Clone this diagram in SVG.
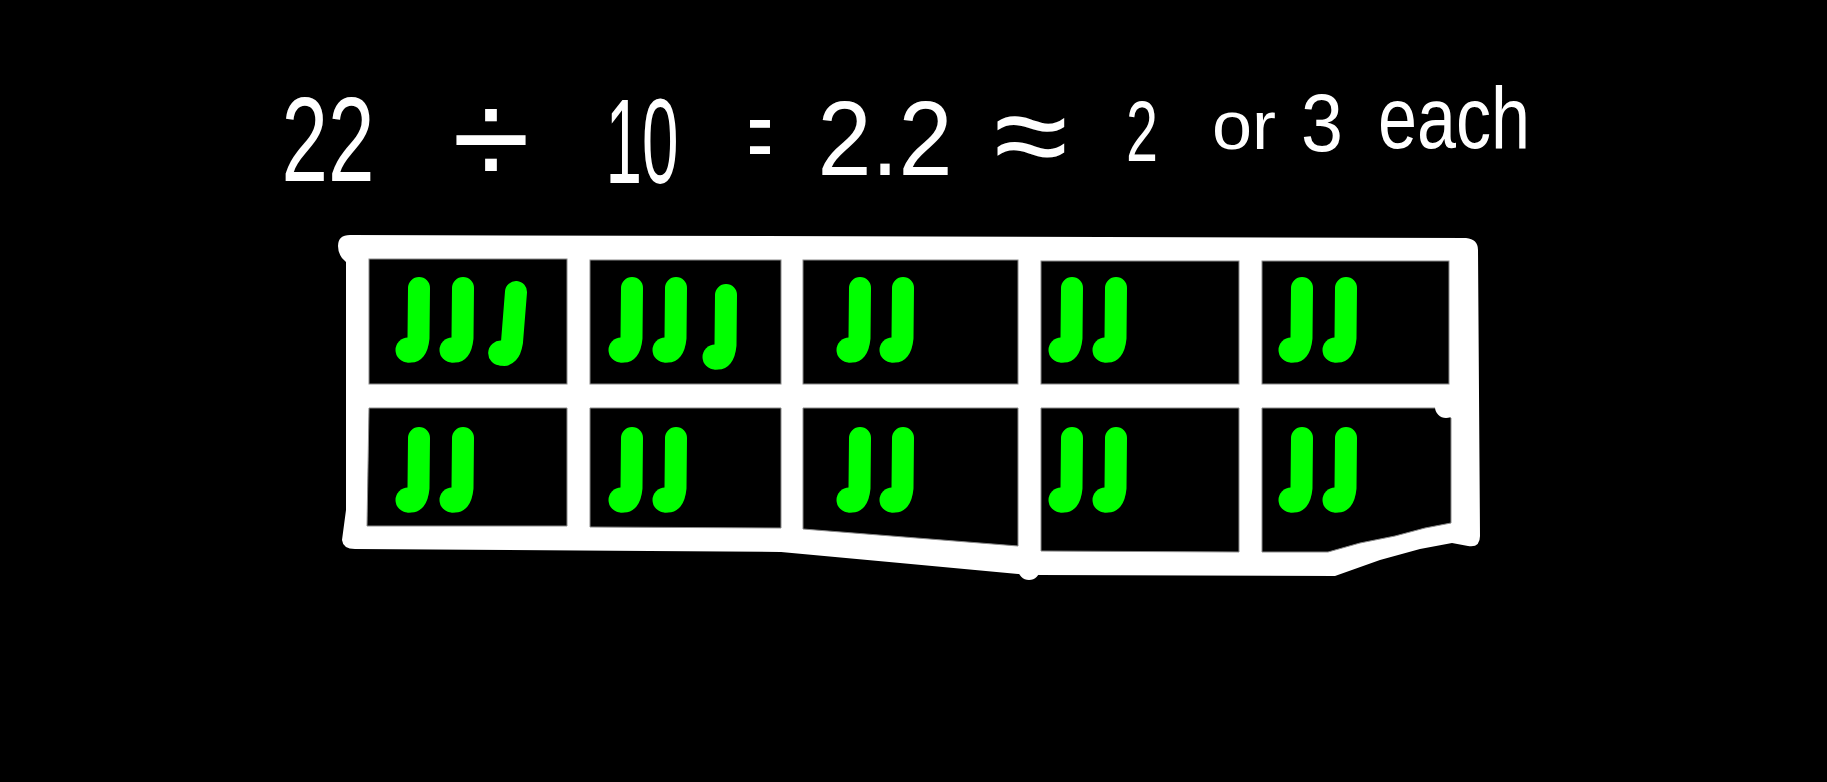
<svg xmlns="http://www.w3.org/2000/svg" xmlns:xlink="http://www.w3.org/1999/xlink" width="1827" height="782" viewBox="0 0 1827 782">
<style>
.t{font-family:"Liberation Sans",Arial,sans-serif;fill:#fff;text-anchor:middle}
.cell{fill:#000;stroke:#8a8a8a;stroke-width:1}
.ws{fill:#fff}
.mk{stroke:#00ff00;stroke-width:22;stroke-linecap:round;stroke-linejoin:round;fill:none}
</style>
<defs>
<g id="mark">
<path class="mk" d="M0,0 L-0.5,50 Q-2,66 -11,63"/>
<circle cx="-11" cy="62" r="12.5" fill="#00ff00"/>
</g>
</defs>
<rect width="1827" height="782" fill="#000"/>
<g id="title">
<text class="t" x="328" y="181" font-size="120" textLength="93" lengthAdjust="spacingAndGlyphs">22</text>
<text class="t" x="491" y="186" font-size="138" textLength="78" lengthAdjust="spacingAndGlyphs">÷</text>
<text class="t" x="642" y="183" font-size="120" textLength="73" lengthAdjust="spacingAndGlyphs">10</text>
<text class="t" x="760" y="172" font-size="105" textLength="24" lengthAdjust="spacingAndGlyphs">=</text>
<text class="t" x="885" y="175" font-size="105" textLength="135" lengthAdjust="spacingAndGlyphs">2.2</text>
<text class="t" x="1031" y="178" font-size="125" textLength="74" lengthAdjust="spacingAndGlyphs">≈</text>
<text class="t" x="1142" y="161" font-size="85" textLength="32" lengthAdjust="spacingAndGlyphs">2</text>
<text class="t" x="1244" y="149" font-size="69" textLength="64" lengthAdjust="spacingAndGlyphs">or</text>
<text class="t" x="1322" y="151" font-size="81" textLength="42" lengthAdjust="spacingAndGlyphs">3</text>
<text class="t" x="1454" y="148" font-size="88" textLength="152" lengthAdjust="spacingAndGlyphs">each</text>
</g>
<g id="frame">
<path class="ws" d="M350,235 L1466,238 Q1478,239 1478,250 L1480,536 Q1480,548 1468,546 L1452,543 L1420,549 L1380,560 L1335,576 L1040,575 L1018,574 L900,563 L781,552 L650,551 L355,549 Q343,549 342,540 L346,510 L346,262 Q338,256 338,246 Q338,235 350,235 Z"/>
<circle class="ws" cx="1029" cy="569" r="11"/>
</g>
<g id="cell-r1c1"><rect class="cell" x="369" y="259" width="198" height="125"/>
<use xlink:href="#mark" transform="translate(419,288)"/><use xlink:href="#mark" transform="translate(463,288)"/><use xlink:href="#mark" transform="translate(516,292) rotate(4)"/></g>
<g id="cell-r1c2"><rect class="cell" x="590" y="260" width="191" height="124"/>
<use xlink:href="#mark" transform="translate(632,288)"/><use xlink:href="#mark" transform="translate(676,288)"/><use xlink:href="#mark" transform="translate(726,295)"/></g>
<g id="cell-r1c3"><rect class="cell" x="803" y="260" width="215" height="124"/>
<use xlink:href="#mark" transform="translate(860,288)"/><use xlink:href="#mark" transform="translate(903,288)"/></g>
<g id="cell-r1c4"><rect class="cell" x="1041" y="261" width="198" height="123"/>
<use xlink:href="#mark" transform="translate(1072,288)"/><use xlink:href="#mark" transform="translate(1116,288)"/></g>
<g id="cell-r1c5"><rect class="cell" x="1262" y="261" width="187" height="123"/>
<use xlink:href="#mark" transform="translate(1302,288)"/><use xlink:href="#mark" transform="translate(1346,288)"/></g>
<g id="cell-r2c1"><polygon class="cell" points="369,408 567,408 567,526 367,526"/>
<use xlink:href="#mark" transform="translate(419,438)"/><use xlink:href="#mark" transform="translate(463,438)"/></g>
<g id="cell-r2c2"><polygon class="cell" points="590,408 781,408 781,528 590,527"/>
<use xlink:href="#mark" transform="translate(632,438)"/><use xlink:href="#mark" transform="translate(676,438)"/></g>
<g id="cell-r2c3"><polygon class="cell" points="803,408 1018,408 1018,546 803,529"/>
<use xlink:href="#mark" transform="translate(860,438)"/><use xlink:href="#mark" transform="translate(903,438)"/></g>
<g id="cell-r2c4"><polygon class="cell" points="1041,408 1239,408 1239,552 1041,551"/>
<use xlink:href="#mark" transform="translate(1072,438)"/><use xlink:href="#mark" transform="translate(1116,438)"/></g>
<g id="cell-r2c5"><polygon class="cell" points="1262,408 1440,408 1451,418 1451,523 1425,528 1395,536 1360,543 1328,552 1262,552"/>
<use xlink:href="#mark" transform="translate(1302,438)"/><use xlink:href="#mark" transform="translate(1346,438)"/></g>
<g id="knobs">
<circle class="ws" cx="1446" cy="407" r="11"/>
</g>
</svg>
